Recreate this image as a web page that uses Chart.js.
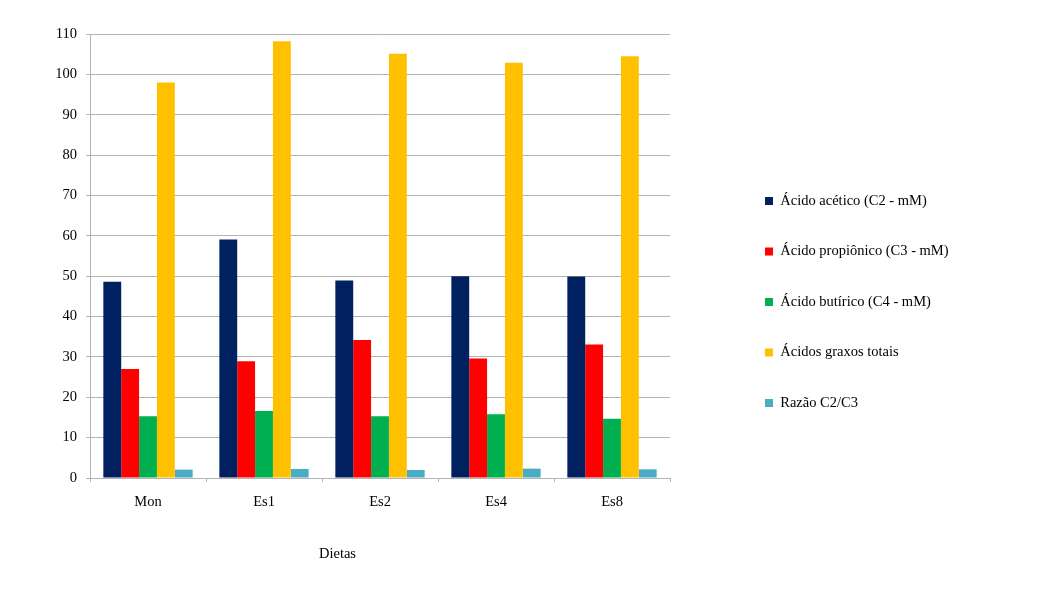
<!DOCTYPE html>
<html>
<head>
<meta charset="utf-8">
<script src="https://cdn.jsdelivr.net/npm/chart.js@4"></script>
<style>
html,body{margin:0;padding:0;background:#fff;}
#wrap{width:1040px;height:598px;position:relative;}
</style>
</head>
<body>
<div id="wrap"><canvas id="c" width="1040" height="598"></canvas></div>
<script>
const categories = ['Mon', 'Es1', 'Es2', 'Es4', 'Es8'];
const seriesNames = ['Ácido acético (C2 - mM)', 'Ácido propiônico (C3 - mM)', 'Ácido butírico (C4 - mM)', 'Ácidos graxos totais', 'Razão C2/C3'];
const acetico = [48.6, 59.1, 48.9, 50.0, 49.9];
const propionico = [27.0, 28.9, 34.2, 29.6, 33.1];
const butirico = [15.3, 16.6, 15.3, 15.8, 14.7];
const totais = [98.0, 108.2, 105.1, 102.9, 104.5];
const razao = [2.07, 2.24, 1.99, 2.32, 2.15];
const colors = ['#002060', '#FF0000', '#00B050', '#FFC000', '#4BACC6'];
const yMin = 0, yMax = 110, yStep = 10;
const xTitle = 'Dietas';

const FONT = '"Liberation Serif", "DejaVu Serif", serif';
const FS = 14.5;
const PAD_BOTTOM = 28;

// measure legend item width to place legend like reference
const mctx = document.createElement('canvas').getContext('2d');
mctx.font = FS + 'px ' + FONT;
let maxText = 0;
seriesNames.forEach(n => { maxText = Math.max(maxText, mctx.measureText(n).width); });
const boxW = 8;
const legPad = 36;
const itemW = boxW + FS / 2 + maxText;
const chartRight = 670;
const legendLeft = 765 - legPad;
const spacer = legendLeft - chartRight;
const legendWidth = legPad + itemW + 10;
const padRight = Math.max(0, 1040 - legendLeft - legendWidth);

const allSeries = [acetico, propionico, butirico, totais, razao];

const dietasPlugin = {
  id: 'dietas',
  afterDraw(chart) {
    const ca = chart.chartArea;
    const ctx = chart.ctx;
    ctx.save();
    ctx.font = FS + 'px ' + FONT;
    ctx.fillStyle = '#000';
    ctx.textAlign = 'center';
    ctx.textBaseline = 'middle';
    ctx.fillText(xTitle, ca.left + 0.4267 * (ca.right - ca.left), ca.bottom + 76);
    ctx.restore();
  }
};

new Chart(document.getElementById('c'), {
  type: 'bar',
  data: {
    labels: categories,
    datasets: allSeries.map((d, i) => ({
      label: seriesNames[i],
      data: d,
      backgroundColor: colors[i],
      borderWidth: 0,
      categoryPercentage: 0.77,
      barPercentage: 1.0
    }))
  },
  options: {
    responsive: false,
    animation: false,
    devicePixelRatio: 1,
    layout: { padding: { left: 54, top: 34, bottom: PAD_BOTTOM, right: padRight } },
    plugins: {
      tooltip: { enabled: false },
      legend: {
        position: 'right',
        align: 'center',
        maxWidth: legendWidth + 2,
        labels: {
          boxWidth: boxW,
          boxHeight: boxW,
          padding: legPad,
          color: '#000',
          font: { family: FONT, size: FS }
        }
      }
    },
    scales: {
      x: {
        grid: { drawOnChartArea: false, drawTicks: true, tickLength: 4, color: '#b3b3b3', offset: true },
        border: { display: true, color: '#b3b3b3' },
        ticks: { color: '#000', font: { family: FONT, size: FS }, padding: 11, maxRotation: 0 },
        afterFit(s) { s.height = 598 - PAD_BOTTOM - 478; }
      },
      y: {
        min: yMin, max: yMax,
        grid: { color: '#b3b3b3', tickLength: 4, drawTicks: true },
        border: { display: true, color: '#b3b3b3' },
        ticks: { stepSize: yStep, color: '#000', font: { family: FONT, size: FS }, padding: 9 },
        afterFit(s) { s.width = 36; }
      },
      spacer: {
        position: 'right',
        display: true,
        grid: { display: false, drawTicks: false },
        border: { display: false },
        ticks: { display: false },
        afterFit(s) { s.width = spacer; }
      }
    }
  },
  plugins: [dietasPlugin]
});
</script>
</body>
</html>
